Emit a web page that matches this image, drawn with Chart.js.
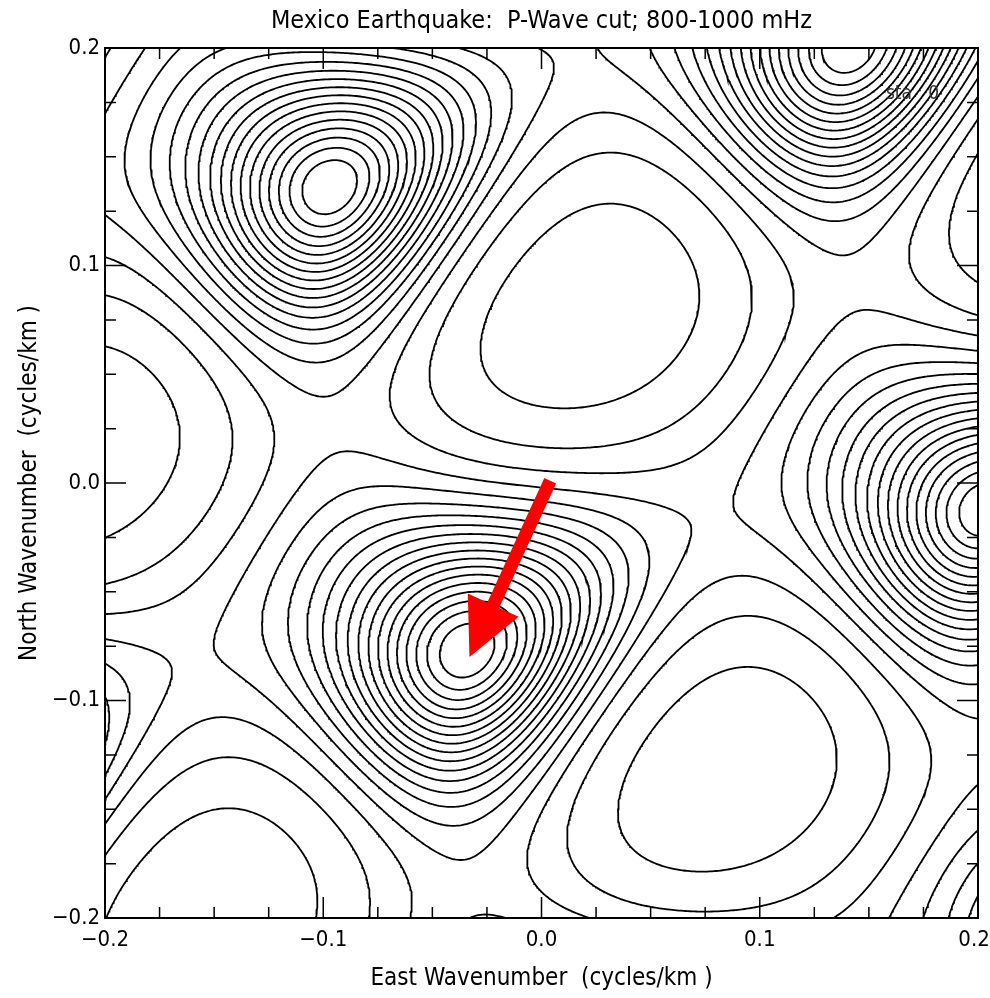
<!DOCTYPE html>
<html>
<head>
<meta charset="utf-8">
<script src="https://cdn.jsdelivr.net/npm/chart.js@4.4.1/dist/chart.umd.min.js"></script>
<style>
html,body{margin:0;padding:0;background:#ffffff;}
#wrap{width:990px;height:998px;position:relative;}
</style>
</head>
<body>
<div id="wrap"><canvas id="c" width="990" height="998"></canvas></div>
<script>
// ---------------- data ----------------
const titleText  = 'Mexico Earthquake:  P-Wave cut; 800-1000 mHz';
const xAxisTitle = 'East Wavenumber  (cycles/km )';
const yAxisTitle = 'North Wavenumber  (cycles/km )';
const axisMin = -0.2;
const axisMax = 0.2;
const majorTicks = [-0.2, -0.1, 0.0, 0.1, 0.2];
const minorTicks = [-0.175, -0.15, -0.125, -0.075, -0.05, -0.025, 0.025, 0.05, 0.075, 0.125, 0.15, 0.175];

// spectral peaks (aliases of the array response): A upper-left, B centre (arrow), C right edge, D top edge
const peakEast  = [-0.097, -0.034, 0.204, 0.141];
const peakNorth = [ 0.136, -0.077, -0.012, 0.201];
const peakPower = 1.0;

// contour levels (relative power)
const contourLevels = [0.05, 0.10, 0.15, 0.20, 0.25, 0.30, 0.35, 0.40, 0.45, 0.50,
                       0.55, 0.60, 0.65, 0.70, 0.75, 0.80, 0.85, 0.90, 0.95];

// surface shape read from ring spacing, saddles and trough shapes
const ringSharpness  = 0.80;    // Lorentzian-like core of each peak
const troughFall     = 0.269;   // extra fall-off past the saddles
const troughPower    = 2.9;
const diagonalTerm   = 0.22;    // coupling along the B-D diagonal
const troughShiftA   = 0.38;    // three-fold (triangular) asymmetry
const troughShiftB   = -0.10;
const troughConeOrder = 4;      // near-zero (conical) troughs

// red arrow (east, north) and station label
const arrowTail = {x: 0.004, y: 0.001};
const arrowTip  = {x: -0.033, y: -0.080};
const stationLabel = 'sta   0';
const stationLabelAt = {x: 0.170, y: 0.179};

// ---------------- surface from the peak lattice ----------------
const lattice = (() => {
  const [Ax, Bx, Cx, Dx] = peakEast;
  const [Ay, By, Cy, Dy] = peakNorth;
  const a = [((Cx - Bx) + (Dx - Ax)) / 2, ((Cy - By) + (Dy - Ay)) / 2];
  const b = [((Ax - Bx) + (Dx - Cx)) / 2, ((Ay - By) + (Dy - Cy)) / 2];
  const ox = (Ax + Bx + Cx + Dx) / 4 - (a[0] + b[0]) / 2;
  const oy = (Ay + By + Cy + Dy) / 4 - (a[1] + b[1]) / 2;
  return {a, b, ox, oy, det: a[0] * b[1] - a[1] * b[0]};
})();

// distance-like measure from the nearest peak (0 on a peak, largest in the troughs)
function peakDistance(x, y) {
  const L = lattice;
  const dx = x - L.ox, dy = y - L.oy;
  const u = (dx * L.b[1] - dy * L.b[0]) / L.det;
  const v = (L.a[0] * dy - L.a[1] * dx) / L.det;
  const T = 2 * Math.PI;
  const D = (1 - Math.cos(T * u)) + (1 - Math.cos(T * v))
        + diagonalTerm * (1 - Math.cos(T * (u - v)))
        + troughShiftA * (Math.sin(T * u) - Math.sin(T * v) - Math.sin(T * (u - v)))
        + troughShiftB * (Math.sin(T * v) - 0.5 * Math.sin(2 * T * v));
  return Math.max(D, 0);
}

// ---------------- contouring (marching squares) ----------------
const N = 401;
const gx = new Float64Array(N), gy = new Float64Array(N);
for (let i = 0; i < N; i++) { gx[i] = axisMin + (axisMax - axisMin) * i / (N - 1); gy[i] = gx[i]; }
const DG = new Float64Array(N * N);
let Dmax = 0;
for (let j = 0; j < N; j++) for (let i = 0; i < N; i++) {
  const d = peakDistance(gx[i], gy[j]);
  DG[j * N + i] = d;
  if (d > Dmax) Dmax = d;
}
const Dzero = Dmax * 1.003;
const F = new Float64Array(N * N);
for (let k = 0; k < N * N; k++) {
  const D = DG[k];
  const cone = Math.sqrt(Math.max(0, 1 - Math.pow(D / Dzero, troughConeOrder)));
  F[k] = peakPower * cone / (1 + ringSharpness * D + troughFall * Math.pow(D, troughPower));
}

function contourLines(level) {
  const pts = new Map();
  const adj = new Map();
  function ep(key, x0, y0, f0, x1, y1, f1) {
    if (!pts.has(key)) {
      const t = (level - f0) / (f1 - f0);
      pts.set(key, [x0 + t * (x1 - x0), y0 + t * (y1 - y0)]);
    }
    return key;
  }
  function link(k1, k2) {
    if (!adj.has(k1)) adj.set(k1, []);
    if (!adj.has(k2)) adj.set(k2, []);
    adj.get(k1).push(k2); adj.get(k2).push(k1);
  }
  for (let j = 0; j < N - 1; j++) {
    for (let i = 0; i < N - 1; i++) {
      const f00 = F[j * N + i], f10 = F[j * N + i + 1], f01 = F[(j + 1) * N + i], f11 = F[(j + 1) * N + i + 1];
      const c = (f00 > level ? 1 : 0) | (f10 > level ? 2 : 0) | (f11 > level ? 4 : 0) | (f01 > level ? 8 : 0);
      if (c === 0 || c === 15) continue;
      const x0 = gx[i], x1 = gx[i + 1], y0 = gy[j], y1 = gy[j + 1];
      const kB = (j * N + i) * 2, kT = ((j + 1) * N + i) * 2, kL = (j * N + i) * 2 + 1, kR = (j * N + i + 1) * 2 + 1;
      const E = {};
      if ((c & 1) !== ((c & 2) >> 1)) E.B = ep(kB, x0, y0, f00, x1, y0, f10);
      if (((c & 2) >> 1) !== ((c & 4) >> 2)) E.R = ep(kR, x1, y0, f10, x1, y1, f11);
      if (((c & 8) >> 3) !== ((c & 4) >> 2)) E.T = ep(kT, x0, y1, f01, x1, y1, f11);
      if ((c & 1) !== ((c & 8) >> 3)) E.L = ep(kL, x0, y0, f00, x0, y1, f01);
      const keys = Object.keys(E);
      if (keys.length === 2) {
        link(E[keys[0]], E[keys[1]]);
      } else if (keys.length === 4) {
        const centre = (f00 + f10 + f01 + f11) / 4 > level;
        if (c === 5) {
          if (centre) { link(E.B, E.R); link(E.L, E.T); } else { link(E.L, E.B); link(E.R, E.T); }
        } else {
          if (centre) { link(E.L, E.B); link(E.R, E.T); } else { link(E.B, E.R); link(E.T, E.L); }
        }
      }
    }
  }
  const visited = new Set();
  const lines = [];
  function walk(start) {
    const line = [start];
    visited.add(start);
    let prev = null, cur = start;
    while (true) {
      const nb = adj.get(cur).filter(k => k !== prev && !visited.has(k));
      if (!nb.length) {
        const back = adj.get(cur).find(k => k === start && k !== prev);
        if (back !== undefined && line.length > 2) line.push(start);
        break;
      }
      prev = cur; cur = nb[0];
      visited.add(cur); line.push(cur);
    }
    return line;
  }
  for (const [k, n] of adj) if (n.length === 1 && !visited.has(k)) lines.push(walk(k));
  for (const k of adj.keys()) if (!visited.has(k)) lines.push(walk(k));
  return lines.map(l => l.map(k => pts.get(k)));
}

const contourDatasets = contourLevels.map(level => {
  const data = [];
  for (const line of contourLines(level)) {
    for (const p of line) data.push({x: p[0], y: p[1]});
    data.push({x: NaN, y: NaN});
  }
  return {
    label: 'level ' + level.toFixed(2),
    data,
    showLine: true,
    spanGaps: false,
    pointRadius: 0,
    borderColor: '#000000',
    borderWidth: 1.8,
    tension: 0
  };
});

// ---------------- plugins: frame with inward ticks, arrow, label ----------------
const framePlugin = {
  id: 'frame',
  afterDatasetsDraw(chart) {
    const {ctx, chartArea: ca, scales: {x, y}} = chart;
    ctx.save();
    ctx.strokeStyle = '#000';
    ctx.lineWidth = 1.5;
    ctx.beginPath();
    const mark = (vals, len) => vals.forEach(v => {
      const px = x.getPixelForValue(v), py = y.getPixelForValue(v);
      ctx.moveTo(px, ca.bottom); ctx.lineTo(px, ca.bottom - len);
      ctx.moveTo(px, ca.top); ctx.lineTo(px, ca.top + len);
      ctx.moveTo(ca.left, py); ctx.lineTo(ca.left + len, py);
      ctx.moveTo(ca.right, py); ctx.lineTo(ca.right - len, py);
    });
    mark(minorTicks, 11);
    mark(majorTicks, 21);
    ctx.stroke();
    ctx.lineWidth = 2;
    ctx.strokeRect(ca.left, ca.top, ca.right - ca.left, ca.bottom - ca.top);
    ctx.restore();
  }
};

const arrowPlugin = {
  id: 'arrow',
  afterDatasetsDraw(chart) {
    const {ctx, scales: {x, y}} = chart;
    const x0 = x.getPixelForValue(arrowTail.x), y0 = y.getPixelForValue(arrowTail.y);
    const x1 = x.getPixelForValue(arrowTip.x), y1 = y.getPixelForValue(arrowTip.y);
    const len = Math.hypot(x1 - x0, y1 - y0), ux = (x1 - x0) / len, uy = (y1 - y0) / len;
    const headLen = 57, headHalf = 28, shaft = 13;
    const bx = x1 - ux * headLen, by = y1 - uy * headLen;
    ctx.save();
    ctx.strokeStyle = '#ff0000'; ctx.fillStyle = '#ff0000';
    ctx.lineWidth = shaft; ctx.lineCap = 'butt';
    ctx.beginPath(); ctx.moveTo(x0, y0); ctx.lineTo(bx + ux * 3, by + uy * 3); ctx.stroke();
    ctx.beginPath();
    ctx.moveTo(x1, y1);
    ctx.lineTo(bx - uy * headHalf, by + ux * headHalf);
    ctx.lineTo(bx + uy * headHalf, by - ux * headHalf);
    ctx.closePath(); ctx.fill();
    ctx.fillStyle = '#333';
    ctx.font = "19px 'DejaVu Sans Condensed', 'Liberation Sans Narrow', sans-serif";
    ctx.textAlign = 'center'; ctx.textBaseline = 'middle';
    ctx.fillText(stationLabel, x.getPixelForValue(stationLabelAt.x), y.getPixelForValue(stationLabelAt.y));
    ctx.restore();
  }
};

// ---------------- chart ----------------
const fontFamily = "'DejaVu Sans Condensed', 'Liberation Sans Narrow', sans-serif";
Chart.defaults.font.family = fontFamily;
Chart.defaults.color = '#000';
const tickFmt = v => (v < 0 ? '\u2212' : '') + Math.abs(v).toFixed(1);
const xTickFmt = v => tickFmt(v) + (v >= axisMax ? '\u2009\u2009' : '');
const forceTicks = s => { s.ticks = majorTicks.map(v => ({value: v})); };

new Chart(document.getElementById('c'), {
  type: 'scatter',
  data: {datasets: contourDatasets},
  options: {
    responsive: false,
    animation: false,
    events: [],
    parsing: false,
    layout: {padding: {left: 0, right: 12, top: 0, bottom: 0}},
    plugins: {
      legend: {display: false},
      tooltip: {enabled: false},
      title: {
        display: true, text: titleText, fullSize: false, color: '#000',
        font: {size: 25, weight: 'normal', family: fontFamily, lineHeight: 1.2},
        padding: {top: 6, bottom: 12}
      }
    },
    scales: {
      x: {
        type: 'linear', position: 'bottom', min: axisMin, max: axisMax,
        afterBuildTicks: forceTicks,
        afterFit: s => { s.height = 80; s.paddingLeft = 0; s.paddingRight = 0; },
        grid: {display: false, drawTicks: false},
        border: {display: false},
        ticks: {callback: xTickFmt, font: {size: 22}, color: '#000', padding: 9, maxRotation: 0, autoSkip: false},
        title: {display: true, text: xAxisTitle, color: '#000', font: {size: 24}, padding: {top: 0, bottom: 5}}
      },
      y: {
        type: 'linear', position: 'left', min: axisMin, max: axisMax,
        afterBuildTicks: forceTicks,
        afterFit: s => { s.width = 105; s.paddingTop = 0; s.paddingBottom = 0; },
        grid: {display: false, drawTicks: false},
        border: {display: false},
        ticks: {callback: tickFmt, font: {size: 22}, color: '#000', padding: 5, autoSkip: false},
        title: {display: true, text: yAxisTitle, color: '#000', font: {size: 24}, padding: {top: 15, bottom: 0}}
      }
    }
  },
  plugins: [framePlugin, arrowPlugin]
});
</script>
</body>
</html>
